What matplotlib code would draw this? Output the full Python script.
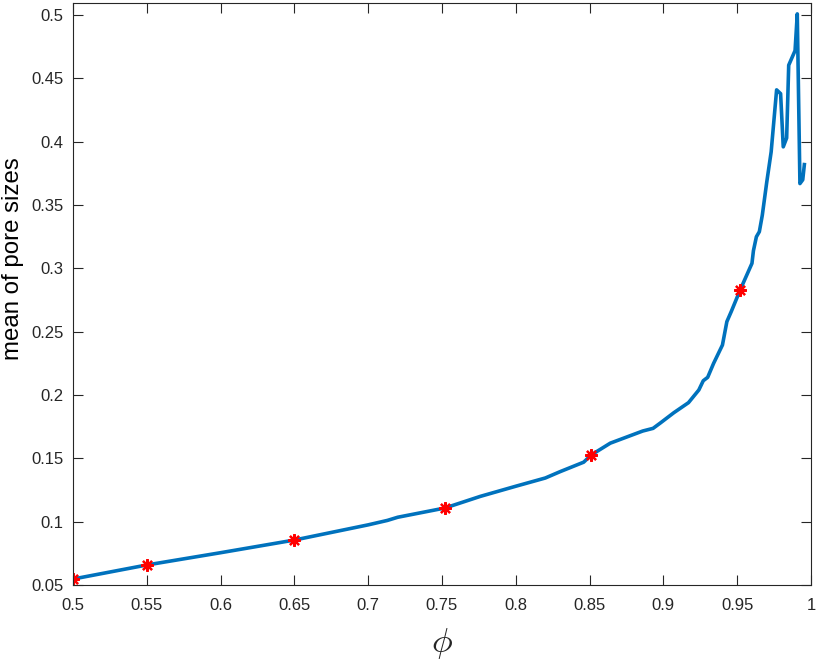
import matplotlib
matplotlib.use("Agg")
import matplotlib.pyplot as plt

phi = [0.500, 0.550, 0.600, 0.650, 0.700, 0.713, 0.720, 0.752, 0.776, 0.800, 0.820,
       0.830, 0.846, 0.851, 0.864, 0.886, 0.893, 0.898, 0.907, 0.917, 0.924,
       0.927, 0.930, 0.934, 0.940, 0.943, 0.946, 0.952, 0.960, 0.961, 0.963,
       0.965, 0.967, 0.970, 0.973, 0.9767, 0.9794, 0.9812, 0.9835, 0.9849,
       0.9892, 0.9907, 0.9925, 0.9944, 0.9955]
mean_size = [0.0547, 0.0658, 0.0755, 0.0855, 0.0975, 0.1010, 0.1035, 0.1108, 0.1200,
             0.1280, 0.1345, 0.1395, 0.1470, 0.1526, 0.1620, 0.1716, 0.1737, 0.1780,
             0.1860, 0.1940, 0.2040, 0.2113, 0.2140, 0.2250, 0.2395, 0.2580, 0.2660,
             0.2830, 0.3040, 0.3140, 0.3250, 0.3290, 0.3420, 0.3680, 0.3920, 0.4410,
             0.4380, 0.3960, 0.4030, 0.4605, 0.4720, 0.5010, 0.3670, 0.3700, 0.3820]

marker_phi = [0.500, 0.550, 0.650, 0.752, 0.851, 0.952]
marker_size = [0.0547, 0.0658, 0.0855, 0.1108, 0.1526, 0.2830]

xticks = [0.5, 0.55, 0.6, 0.65, 0.7, 0.75, 0.8, 0.85, 0.9, 0.95, 1.0]
xticklabels = ["0.5", "0.55", "0.6", "0.65", "0.7", "0.75", "0.8", "0.85", "0.9", "0.95", "1"]
yticks = [0.05, 0.1, 0.15, 0.2, 0.25, 0.3, 0.35, 0.4, 0.45, 0.5]
yticklabels = ["0.05", "0.1", "0.15", "0.2", "0.25", "0.3", "0.35", "0.4", "0.45", "0.5"]

plt.rcParams['font.family'] = ['Liberation Sans', 'DejaVu Sans']
plt.rcParams['mathtext.fontset'] = 'cm'

fig = plt.figure(figsize=(8.18, 6.64), dpi=100)
ax = fig.add_axes([73/818, 79/664, (811-73)/818, (585-2.5)/664])

ax.plot(phi, mean_size, color='#0072BD', linewidth=2.6, solid_joinstyle='round')
ax.plot(marker_phi, marker_size, linestyle='none', marker=(8, 2, 0), markersize=9,
        markeredgecolor='red', markerfacecolor='red', markeredgewidth=1.6)

ax.set_xlim(0.5, 1.0)
ax.set_ylim(0.05, 0.51)
ax.set_xticks(xticks)
ax.set_xticklabels(xticklabels)
ax.set_yticks(yticks)
ax.set_yticklabels(yticklabels)

ax.tick_params(direction='in', top=True, right=True, length=7, width=0.8,
               colors='#262626', labelsize=12)
ax.tick_params(axis='x', pad=9)
ax.tick_params(axis='y', pad=7)
for s in ax.spines.values():
    s.set_color('#262626')
    s.set_linewidth(0.8)

ax.set_ylabel('mean of pore sizes', fontsize=17.3, color='black')
ax.yaxis.set_label_coords(-0.067, 0.561)
ax.set_xlabel(r'$\phi$', fontsize=25, color='#262626', labelpad=10)

fig.savefig('out.png', dpi=100)
